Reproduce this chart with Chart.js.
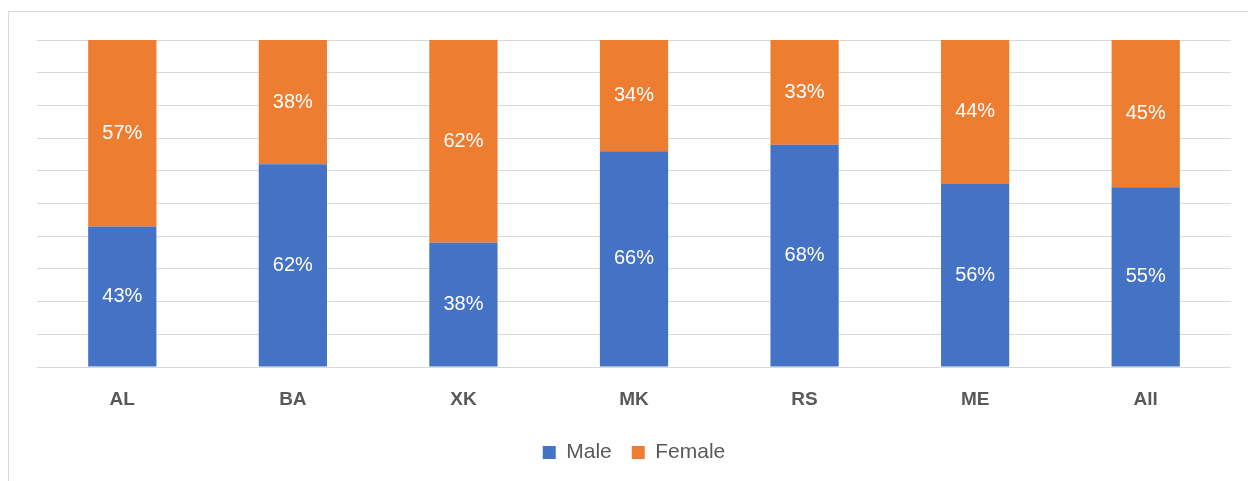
<!DOCTYPE html>
<html>
<head>
<meta charset="utf-8">
<script src="https://cdn.jsdelivr.net/npm/chart.js@4/dist/chart.umd.min.js"></script>
<style>
  html, body { margin: 0; padding: 0; background: #ffffff; overflow: hidden; }
  #wrap { position: relative; width: 1248px; height: 481px; }
  #frame { position: absolute; left: 8px; top: 11px; width: 1300px; height: 520px;
           border: 1.5px solid #d9d9d9; box-sizing: border-box; }
  canvas { position: absolute; left: 0; top: 0; }
</style>
</head>
<body>
<div id="wrap">
  <div id="frame"></div>
  <canvas id="chart" width="1248" height="481"></canvas>
</div>
<script>
// Share of respondents by gender, per country
const categories = ['AL', 'BA', 'XK', 'MK', 'RS', 'ME', 'All'];
const maleShare = [43, 62, 38, 66, 68, 56, 55];
const femaleShare = [57, 38, 62, 34, 33, 44, 45];
const yTicks = [0, 10, 20, 30, 40, 50, 60, 70, 80, 90, 100];

const FONT = "'Liberation Sans', Arial, sans-serif";
const GREY = '#595959';

// Writes each segment's value in the middle of its bar piece
const segmentLabels = {
  id: 'segmentLabels',
  afterDatasetsDraw(chart) {
    const ctx = chart.ctx;
    const area = chart.chartArea;
    ctx.save();
    ctx.fillStyle = '#ffffff';
    ctx.font = '20px ' + FONT;
    ctx.textAlign = 'center';
    ctx.textBaseline = 'middle';
    chart.data.datasets.forEach((ds, di) => {
      const meta = chart.getDatasetMeta(di);
      meta.data.forEach((bar, i) => {
        const top = Math.max(bar.y, area.top);
        const bottom = Math.min(bar.base, area.bottom);
        ctx.fillText(ds.data[i] + '%', bar.x, (top + bottom) / 2);
      });
    });
    ctx.restore();
  }
};

new Chart(document.getElementById('chart'), {
  type: 'bar',
  data: {
    labels: categories,
    datasets: [
      { label: 'Male', data: maleShare, backgroundColor: '#4472c4', clip: 0,
        categoryPercentage: 1, barPercentage: 0.4 },
      { label: 'Female', data: femaleShare, backgroundColor: '#ed7d31', clip: 0,
        categoryPercentage: 1, barPercentage: 0.4 }
    ]
  },
  options: {
    responsive: false,
    animation: false,
    layout: { padding: { left: 37, right: 17, top: 40, bottom: 8 } },
    plugins: {
      tooltip: { enabled: false },
      legend: {
        position: 'bottom',
        labels: {
          boxWidth: 13,
          boxHeight: 13,
          padding: 20,
          color: GREY,
          font: { family: FONT, size: 21, lineHeight: 1.0 }
        }
      }
    },
    scales: {
      x: {
        stacked: true,
        grid: { display: false, drawTicks: false },
        border: { display: false },
        ticks: { color: GREY, padding: 21, font: { family: FONT, size: 19, weight: 'bold' } },
        afterFit(scale) { scale.height = 55; }
      },
      y: {
        stacked: true,
        min: 0,
        max: 100,
        afterBuildTicks(scale) { scale.ticks = yTicks.map(v => ({ value: v })); },
        grid: { color: '#d9d9d9', lineWidth: 1, drawTicks: false },
        border: { display: false },
        ticks: { display: false }
      }
    }
  },
  plugins: [segmentLabels]
});
</script>
</body>
</html>
